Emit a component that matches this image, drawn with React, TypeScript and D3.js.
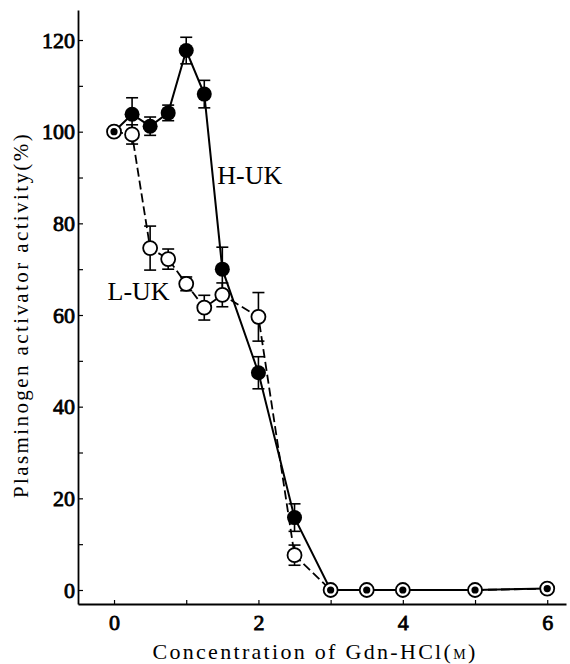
import React, { useEffect, useRef } from "react";
import * as d3 from "d3";

// Gdn-HCl concentration (M)
const concentrations = [0, 0.25, 0.5, 0.75, 1, 1.25, 1.5, 2, 2.5, 3, 3.5, 4, 5, 6];
// H-UK activity (%) and error
const hukValues = [100, 103.8, 101.2, 104.1, 117.7, 108.2, 70, 47.4, 15.8, 0, 0, 0, 0, 0.3];
const hukErrors = [0, 3.6, 2, 1.7, 2.9, 3, 4.8, 3.5, 3, 0, 0, 0, 0, 0];
// L-UK activity (%) and error
const lukValues = [100, 99.4, 74.6, 72.2, 66.8, 61.6, 64.4, 59.6, 7.6, 0, 0, 0, 0, 0.3];
const lukErrors = [0, 2.1, 4.8, 2.2, 1.5, 2.7, 2.6, 5.3, 2.2, 0, 0, 0, 0, 0];

const yMajorTicks = [0, 20, 40, 60, 80, 100, 120];
const yMinorTicks = [10, 30, 50, 70, 90, 110];
const xMajorTicks = [0, 2, 4, 6];
const xMinorTicks = [1, 3, 5];

type Pt = { x: number; v: number; e: number };

const App: React.FC = () => {
  const svgRef = useRef<SVGSVGElement | null>(null);

  useEffect(() => {
    if (!svgRef.current) return;
    const width = 570;
    const height = 664;
    const svg = d3.select(svgRef.current);
    svg.selectAll("*").remove();

    svg.append("rect").attr("width", width).attr("height", height).attr("fill", "#fff");

    const x = d3.scaleLinear().domain([-0.499, 6.26]).range([78, 566]);
    const y = d3.scaleLinear().domain([-3.055, 126.55]).range([604, 10]);

    const huk: Pt[] = concentrations.map((c, i) => ({ x: c, v: hukValues[i], e: hukErrors[i] }));
    const luk: Pt[] = concentrations.map((c, i) => ({ x: c, v: lukValues[i], e: lukErrors[i] }));

    const font = "'Liberation Serif', 'Times New Roman', serif";

    // y axis
    const yAxis = svg.append("g").attr("transform", `translate(${x(-0.499)},0)`);
    yAxis.call(
      d3
        .axisLeft(y)
        .tickValues(yMajorTicks)
        .tickFormat(d3.format("d"))
        .tickSize(-5)
        .tickSizeOuter(0)
        .tickPadding(3)
    );
    yAxis
      .append("g")
      .call(d3.axisLeft(y).tickValues(yMinorTicks).tickSize(-5).tickSizeOuter(0).tickFormat(() => ""))
      .select(".domain")
      .remove();

    // x axis
    const xAxis = svg.append("g").attr("transform", `translate(0,${y(-3.055)})`);
    xAxis.call(
      d3
        .axisBottom(x)
        .tickValues(xMajorTicks)
        .tickFormat(d3.format("d"))
        .tickSize(-4)
        .tickSizeOuter(0)
        .tickPadding(10)
    );
    xAxis
      .append("g")
      .call(d3.axisBottom(x).tickValues(xMinorTicks).tickSize(-4).tickSizeOuter(0).tickFormat(() => ""))
      .select(".domain")
      .remove();

    svg.selectAll(".domain").attr("stroke", "#000").attr("stroke-width", 1.8);
    svg.selectAll(".tick line").attr("stroke", "#000").attr("stroke-width", 1.2);
    svg
      .selectAll(".tick text")
      .attr("fill", "#000")
      .attr("stroke", "#000")
      .attr("stroke-width", 0.8)
      .attr("font-family", font)
      .attr("font-size", 22);

    // lines
    const line = d3
      .line<Pt>()
      .x((d) => x(d.x))
      .y((d) => y(d.v));

    svg
      .append("path")
      .datum(luk)
      .attr("fill", "none")
      .attr("stroke", "#000")
      .attr("stroke-width", 1.8)
      .attr("stroke-dasharray", "9,4")
      .attr("d", line);

    svg
      .append("path")
      .datum(huk)
      .attr("fill", "none")
      .attr("stroke", "#000")
      .attr("stroke-width", 2)
      .attr("d", line);

    // error bars
    const drawErrors = (data: Pt[]) => {
      const g = svg.append("g").attr("stroke", "#000").attr("stroke-width", 1.6);
      data
        .filter((d) => d.e > 0)
        .forEach((d) => {
          const cx = x(d.x);
          g.append("line").attr("x1", cx).attr("x2", cx).attr("y1", y(d.v - d.e)).attr("y2", y(d.v + d.e));
          g.append("line").attr("x1", cx - 6).attr("x2", cx + 6).attr("y1", y(d.v + d.e)).attr("y2", y(d.v + d.e));
          g.append("line").attr("x1", cx - 6).attr("x2", cx + 6).attr("y1", y(d.v - d.e)).attr("y2", y(d.v - d.e));
        });
    };
    drawErrors(luk);
    drawErrors(huk);

    const shared = (i: number) => hukValues[i] === lukValues[i];

    // L-UK open circles
    svg
      .append("g")
      .selectAll("circle")
      .data(luk.filter((_, i) => !shared(i)))
      .join("circle")
      .attr("cx", (d) => x(d.x))
      .attr("cy", (d) => y(d.v))
      .attr("r", 7)
      .attr("fill", "#fff")
      .attr("stroke", "#000")
      .attr("stroke-width", 1.8);

    // H-UK filled circles
    svg
      .append("g")
      .selectAll("circle")
      .data(huk.filter((_, i) => !shared(i)))
      .join("circle")
      .attr("cx", (d) => x(d.x))
      .attr("cy", (d) => y(d.v))
      .attr("r", 7.5)
      .attr("fill", "#000");

    // coinciding points
    const both = svg
      .append("g")
      .selectAll("g")
      .data(huk.filter((_, i) => shared(i)))
      .join("g")
      .attr("transform", (d) => `translate(${x(d.x)},${y(d.v)})`);
    both.append("circle").attr("r", 7).attr("fill", "#fff").attr("stroke", "#000").attr("stroke-width", 1.8);
    both.append("circle").attr("r", 3.6).attr("fill", "#000");

    // series labels
    svg
      .append("text")
      .attr("x", x(1.43))
      .attr("y", y(88.5))
      .attr("font-family", font)
      .attr("font-size", 26)
      .text("H-UK");
    svg
      .append("text")
      .attr("x", x(-0.09))
      .attr("y", y(63.3))
      .attr("font-family", font)
      .attr("font-size", 26)
      .text("L-UK");

    // axis titles
    const xt = svg
      .append("text")
      .attr("x", 315)
      .attr("y", 659)
      .attr("text-anchor", "middle")
      .attr("font-family", font)
      .attr("font-size", 22)
      .attr("letter-spacing", 2.3);
    xt.append("tspan").text("Concentration of Gdn-HCl(");
    xt.append("tspan").attr("font-size", 14).text("M");
    xt.append("tspan").text(")");

    svg
      .append("text")
      .attr("transform", "translate(28,315) rotate(-90)")
      .attr("text-anchor", "middle")
      .attr("font-family", font)
      .attr("font-size", 21)
      .attr("letter-spacing", 2.4)
      .text("Plasminogen activator activity(%)");
  }, []);

  return (
    <svg
      ref={svgRef}
      width={570}
      height={664}
      style={{ position: "absolute", left: 0, top: 0, display: "block" }}
    />
  );
};

export default App;
